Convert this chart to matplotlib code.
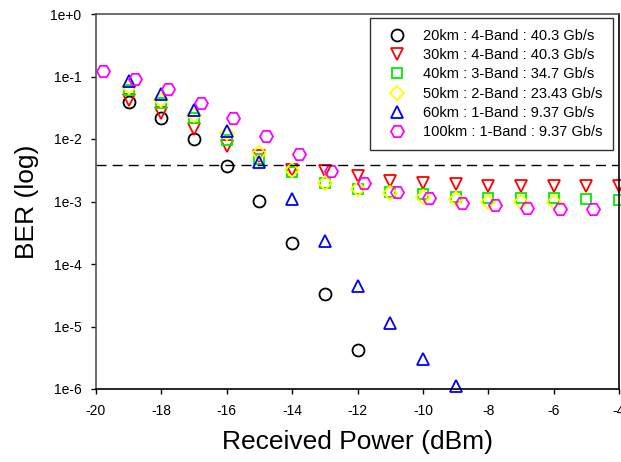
import matplotlib.pyplot as plt

plt.rcParams['font.family'] = ['Liberation Sans', 'DejaVu Sans']
plt.rcParams['axes.unicode_minus'] = False

# received power (dBm)
x_20km = [-19, -18, -17, -16, -15, -14, -13, -12]
x_30km = [-19, -18, -17, -16, -15, -14, -13, -12, -11, -10, -9, -8, -7, -6, -5, -4]
x_40km = [-19, -18, -17, -16, -15, -14, -13, -12, -11, -10, -9, -8, -7, -6, -5, -4]
x_50km = [-19, -18, -17, -16, -15, -14, -13, -12, -11, -10, -9, -8, -7, -6]
x_60km = [-19, -18, -17, -16, -15, -14, -13, -12, -11, -10, -9]
x_100km = [-19.8, -18.8, -17.8, -16.8, -15.8, -14.8, -13.8, -12.8,
           -11.8, -10.8, -9.8, -8.8, -7.8, -6.8, -5.8, -4.8]

# BER
ber_20km = [0.0395, 0.0214, 0.0099, 0.0037, 0.00103, 2.2e-4, 3.3e-5, 4.2e-6]
ber_30km = [0.042, 0.026, 0.0143, 0.0077, 0.0053, 0.0032, 0.0031, 0.0026,
            0.0021, 0.0020, 0.0019, 0.0018, 0.00178, 0.00178, 0.00178, 0.00178]
ber_40km = [0.06, 0.038, 0.022, 0.0096, 0.0048, 0.003, 0.002, 0.0016,
            0.00144, 0.0013, 0.0012, 0.00115, 0.00112, 0.00112, 0.00108, 0.00106]
ber_50km = [0.068, 0.042, 0.024, 0.0125, 0.006, 0.0032, 0.002, 0.0016,
            0.00137, 0.00118, 0.0011, 0.001, 0.001, 0.001]
ber_60km = [0.085, 0.052, 0.029, 0.0134, 0.0043, 1.1e-3, 2.3e-4, 4.5e-5,
            1.15e-5, 3.0e-6, 1.12e-6]
ber_100km = [0.124, 0.091, 0.063, 0.038, 0.0214, 0.011, 0.0057, 0.0031,
             0.002, 0.00141, 0.00114, 0.00095, 0.00088, 0.00079, 0.00076, 0.00076]

fec_limit = 3.8e-3

labels = ['20km : 4-Band : 40.3 Gb/s', '30km : 4-Band : 40.3 Gb/s',
          '40km : 3-Band : 34.7 Gb/s', '50km : 2-Band : 23.43 Gb/s',
          '60km : 1-Band : 9.37 Gb/s', '100km : 1-Band : 9.37 Gb/s']
yticks = [1e-6, 1e-5, 1e-4, 1e-3, 1e-2, 1e-1, 1e0]
ytick_labels = ['1e-6', '1e-5', '1e-4', '1e-3', '1e-2', '1e-1', '1e+0']
xticks = [-20, -18, -16, -14, -12, -10, -8, -6, -4]

fig = plt.figure(figsize=(6.21, 4.62), dpi=100)
ax = fig.add_axes([96 / 621, 1 - 389 / 462, 523 / 621, 375 / 462])

series = [
    (x_20km, ber_20km, 'o', 'black', 8.6),
    (x_30km, ber_30km, 'v', 'red', 9.2),
    (x_40km, ber_40km, 's', '#00ee00', 7.4),
    (x_50km, ber_50km, 'D', '#ffff00', 7.0),
    (x_60km, ber_60km, '^', 'blue', 9.2),
    (x_100km, ber_100km, 'H', '#ff00ff', 9.4),
]
for (xs, ys, m, c, ms), lab in zip(series, labels):
    ax.plot(xs, ys, linestyle='none', marker=m, markersize=ms,
            markerfacecolor='none', markeredgecolor=c, markeredgewidth=1.3,
            label=lab, clip_on=False)

ax.axhline(fec_limit, color='black', linewidth=1, dashes=(7.2, 4.4))

ax.set_yscale('log')
ax.set_ylim(1e-6, 1)
ax.set_xlim(-20, -4)
ax.set_yticks(yticks)
ax.set_yticklabels(ytick_labels)
ax.minorticks_off()
ax.set_xticks(xticks)
ax.tick_params(direction='out', length=3.5, width=1, labelsize=10, pad=7)

for side in ['left', 'top']:
    ax.spines[side].set_color('#555555')
for side in ['bottom', 'right']:
    ax.spines[side].set_color('black')
for s in ax.spines.values():
    s.set_linewidth(1.2)

ax.set_xlabel('Received Power (dBm)', fontsize=19, labelpad=9)
ax.set_ylabel('BER (log)', fontsize=19, labelpad=8)

leg = ax.legend(loc='upper right', bbox_to_anchor=(0.9885, 0.9893),
                borderaxespad=0, fontsize=10.5, frameon=True, fancybox=False,
                edgecolor='black', borderpad=0.75, handlelength=2.2,
                handletextpad=0.62, labelspacing=0.36)
leg.get_frame().set_linewidth(1.0)

fig.savefig('out.png', dpi=100)
